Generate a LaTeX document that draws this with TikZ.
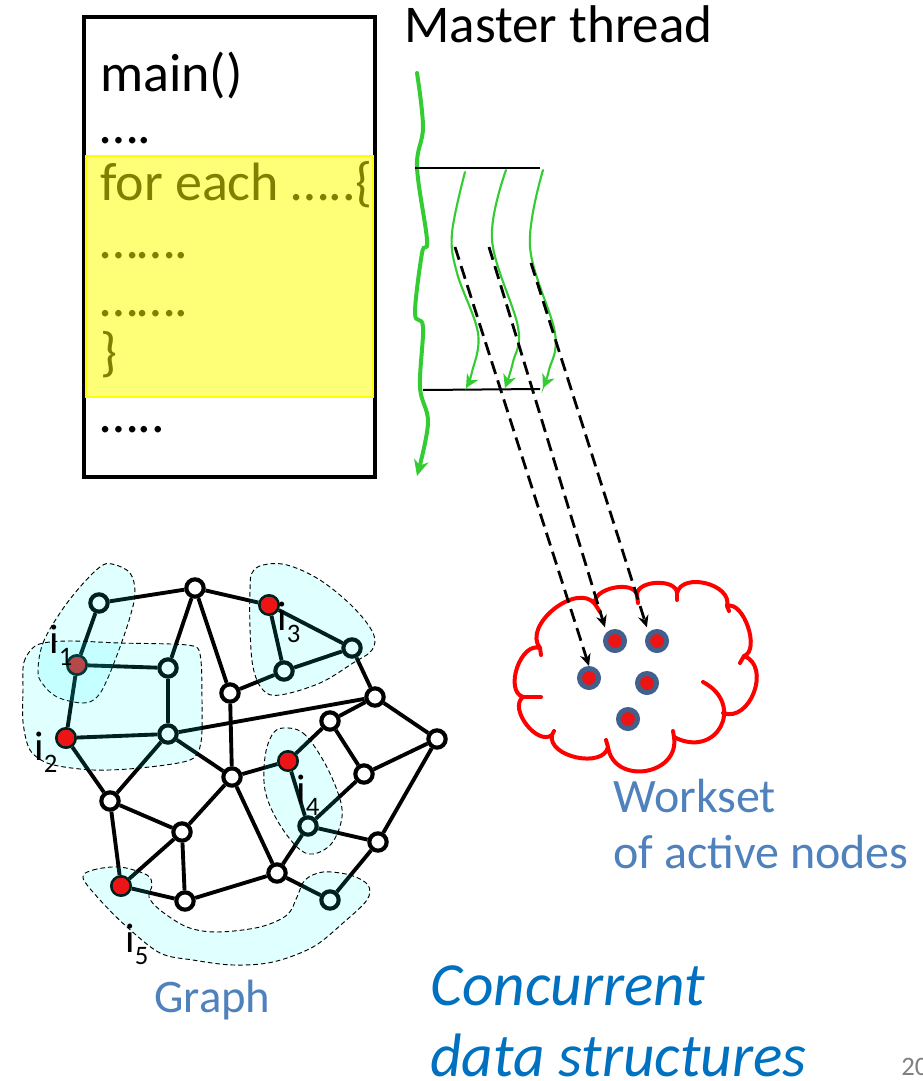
\documentclass[tikz,border=0pt]{standalone}
\usepackage{fontspec}
\setmainfont{Carlito}
\usetikzlibrary{arrows.meta}
\definecolor{olivetext}{RGB}{128,128,0}
\definecolor{hlyellow}{RGB}{255,255,119}
\definecolor{hlborder}{RGB}{255,255,0}
\definecolor{thread}{RGB}{51,204,51}
\definecolor{activered}{RGB}{236,20,20}
\definecolor{wsblue}{RGB}{79,129,189}
\definecolor{cdsblue}{RGB}{0,112,192}
\definecolor{dotring}{RGB}{65,96,140}
\definecolor{slidegray}{RGB}{128,128,128}
\definecolor{parttint}{RGB}{0,255,255}
\newcommand\isub[1]{i\lower9pt\hbox{\fontsize{20}{20}\selectfont#1}}

\begin{document}
\begin{tikzpicture}[x=0.75pt,y=-0.75pt,
  gn/.style={circle,draw=black,line width=3.1pt,fill=white,minimum size=13pt,inner sep=0pt},
  an/.style={gn,fill=activered,line width=2pt,minimum size=14.5pt},
  gedge/.style={line width=2.9pt,black},
  region/.style={fill=parttint,fill opacity=0.12,draw=black,line width=0.7pt,dash pattern=on 3.5pt off 2.2pt},
  lab/.style={anchor=base west,inner sep=0pt,font=\fontsize{31}{31}\selectfont},
  txt/.style={anchor=base west,inner sep=0pt},
  codetxt/.style={txt,font=\fontsize{40.5}{41}\selectfont},
  master/.style={thread,line width=3pt,line cap=round,-{Stealth[length=12pt,width=11pt]}},
  child/.style={thread,line width=1.6pt,line cap=round,-{Stealth[length=10pt,width=10pt]}},
  hline/.style={black,line width=1.5pt},
  dasharrow/.style={black,line width=2.1pt,dash pattern=on 10pt off 5pt,-{Stealth[length=9pt,width=8pt]}},
  wsdot/.style={circle,fill=activered,draw=dotring,line width=3.75pt,minimum size=14.25pt,inner sep=0pt},
  cloudline/.style={red,line width=3pt,line cap=round,line join=round},
  puff/.style={bend left=90,looseness=#1}
]
\useasboundingbox (0,0) rectangle (922,1081);

% ---------- program box ----------
\draw[black,line width=3pt] (84,17) rectangle (375,477);
\fill[hlyellow,draw=hlborder,line width=1.5pt] (86,156) rectangle (373,397);
\node[codetxt] (l1) at (100,92) {main()};
\node[codetxt] (l2) at (100,143) {….};
\node[codetxt,text=olivetext] (l3) at (100,200) {for each …..\{};
\node[codetxt,text=olivetext] (l4) at (100,258) {…….};
\node[codetxt,text=olivetext] (l5) at (100,316) {…….};
\node[codetxt,text=olivetext] (l6) at (100,370) {\}};
\node[codetxt] (l7) at (100,432) {…..};

% ---------- threads ----------
\node[txt,font=\fontsize{39.8}{41}\selectfont] (mt) at (404,43) {Master thread};
\draw[master] plot[smooth,tension=0.6] coordinates {(417,73) (423,127) (417,167) (427,240) (422,253) (415,313) (423,327) (420,387) (428,423) (417,476)};
\coordinate (forkL) at (415,168);
\coordinate (forkR) at (540,168);
\coordinate (joinL) at (423,390);
\coordinate (joinR) at (540,389);
\draw[hline] (forkL) -- (forkR);
\draw[hline] (joinL) -- (joinR);
\draw[child] plot[smooth,tension=0.6] coordinates {(465,172) (452,233) (457,273) (478,333) (472,372) (466,388)};
\draw[child] plot[smooth,tension=0.6] coordinates {(506,170) (492,240) (518,327) (513,362) (505,388)};
\draw[child] plot[smooth,tension=0.6] coordinates {(543,170) (530,247) (555,333) (549,370) (543,388)};

% ---------- workset cloud ----------
\coordinate (v1) at (540,648);
\coordinate (v2) at (595,604);
\coordinate (v3) at (637,595);
\coordinate (v4) at (677,593);
\coordinate (v5) at (727,606);
\coordinate (v6) at (744,656);
\coordinate (v7) at (723,713);
\coordinate (v8) at (674,737);
\coordinate (v9) at (608,747);
\coordinate (v10) at (552,735);
\coordinate (v11) at (523,697);
\draw[cloudline] (v8) to[puff=1.5] (v9) to[puff=1.0] (v10) to[puff=1.0] (v11)
  to[puff=1.0] (v1) to[puff=1.05] (v2) to[puff=0.95] (v3) to[puff=0.95] (v4)
  to[puff=1.1] (v5) to[puff=0.85] (v6) to[puff=1.23] (v7);
\draw[cloudline] (703,682) to[puff=2.0] (v8);
% inner ends of the puffs
\draw[cloudline] (v11) -- (541,697);
\draw[cloudline] (v1) -- (541,655);
\draw[cloudline] (v2) -- (600,612);
\draw[cloudline] (v3) -- (638,603);
\draw[cloudline] (v4) -- (677,600);
\draw[cloudline] (v5) -- (729,611);
\draw[cloudline] (v6) -- (740,663);
\draw[cloudline] (v8) -- (673,731);
\draw[cloudline] (v9) -- (606,740);
\draw[cloudline] (v10) -- (554,731);

\node[wsdot] (w1) at (589,678) {};
\node[wsdot] (w2) at (615,641) {};
\node[wsdot] (w3) at (657,641) {};
\node[wsdot] (w4) at (647,683) {};
\node[wsdot] (w5) at (628,719) {};
\node[txt,font=\fontsize{36}{42}\selectfont,text=wsblue] (ws1) at (613,812) {Workset};
\node[txt,font=\fontsize{36}{42}\selectfont,text=wsblue] (ws2) at (613,868) {of active nodes};

% ---------- dashed work items ----------
\coordinate (d1) at (455,247);
\coordinate (d2) at (489,247);
\coordinate (d3) at (531,263);
\draw[dasharrow] (d1) -- (w1.north);
\draw[dasharrow,shorten >=4pt] (d2) -- (w2.north west);
\draw[dasharrow,shorten >=4pt] (d3) -- (w3.north west);

% ---------- graph ----------
\node[gn] (A) at (99,603) {};
\node[gn] (B) at (195,588) {};
\node[an] (C) at (269,605) {};
\node[an] (D) at (77,665) {};
\node[gn] (E) at (168,668) {};
\node[gn] (F) at (284,671) {};
\node[gn] (G) at (352,648) {};
\node[gn] (H) at (230,693) {};
\node[gn] (I) at (375,697) {};
\node[an] (J) at (66,738) {};
\node[gn] (K) at (168,734) {};
\node[gn] (L) at (330,721) {};
\node[gn] (M) at (437,739) {};
\node[an] (N) at (288,761) {};
\node[gn] (O) at (364,774) {};
\node[gn] (P) at (232,777) {};
\node[gn] (Q) at (110,801) {};
\node[gn] (R) at (308,826) {};
\node[gn] (S) at (378,842) {};
\node[gn] (T) at (182,832) {};
\node[an] (U) at (121,886) {};
\node[gn] (V) at (185,901) {};
\node[gn] (W) at (277,873) {};
\node[gn] (X) at (330,900) {};
\foreach \a/\b in {A/B,A/D,B/C,B/E,B/H,C/G,C/F,F/G,F/H,D/E,D/J,E/K,J/K,K/I,G/I,H/P,K/P,J/Q,K/Q,
  I/L,I/M,L/N,L/O,O/M,N/P,N/R,R/O,R/S,M/S,R/W,P/W,W/X,S/X,W/V,T/V,P/T,T/Q,T/U,Q/U,U/V}
  \draw[gedge] (\a) -- (\b);

% partitions handed to the iterations
\draw[region] plot[smooth cycle,tension=0.6] coordinates {(38,670) (43,643) (60,613) (80,587) (100,567) (112,564) (130,573) (135,593) (130,617) (120,647) (107,680) (97,697) (83,703) (57,697) (42,683)};
\draw[region] plot[smooth cycle,tension=0.5] coordinates {(23,690) (24,662) (37,645) (67,641) (120,643) (187,645) (200,654) (202,700) (201,742) (190,760) (140,768) (93,770) (50,764) (30,750) (23,722)};
\draw[region] plot[smooth cycle,tension=0.6] coordinates {(252,573) (263,565) (287,565) (320,580) (353,607) (373,633) (372,650) (353,663) (320,683) (280,695) (263,690) (253,667) (250,627) (250,590)};
\draw[region] plot[smooth cycle,tension=0.6] coordinates {(283,728) (303,733) (323,760) (338,793) (342,817) (332,843) (313,854) (297,847) (277,820) (265,790) (265,757) (272,735)};
\draw[region] plot[smooth cycle,tension=0.55] coordinates {(83,878) (93,870) (120,867) (147,875) (152,885) (149,897) (160,910) (187,927) (217,932) (260,927) (287,915) (297,897) (305,880) (323,872) (350,875) (368,885) (367,900) (343,923) (313,947) (273,962) (233,965) (193,960) (160,953) (127,927) (100,900)};

% active nodes keep their full red above the tint
\foreach \n in {C,J,N,U}
  \fill[activered] (\n.center) circle (6.1pt);

\node[lab] (i1) at (49,653) {\isub{1}};
\node[lab] (i2) at (34,760) {\isub{2}};
\node[lab] (i3) at (277,630) {\isub{3}};
\node[lab] (i4) at (296,803) {\isub{4}};
\node[lab] (i5) at (125,952) {\isub{5}};
\node[txt,font=\fontsize{35}{40}\selectfont,text=wsblue] (gl) at (154,1012) {Graph};

% ---------- captions ----------
\node[txt,font=\fontsize{46}{50}\itshape,text=cdsblue] (c1) at (430,1005) {Concurrent};
\node[txt,font=\fontsize{46}{50}\itshape,text=cdsblue] (c2) at (430,1076) {data structures};
\node[txt,font=\fontsize{20}{20}\selectfont,text=slidegray] (pg) at (901,1075) {20};
\end{tikzpicture}
\end{document}
